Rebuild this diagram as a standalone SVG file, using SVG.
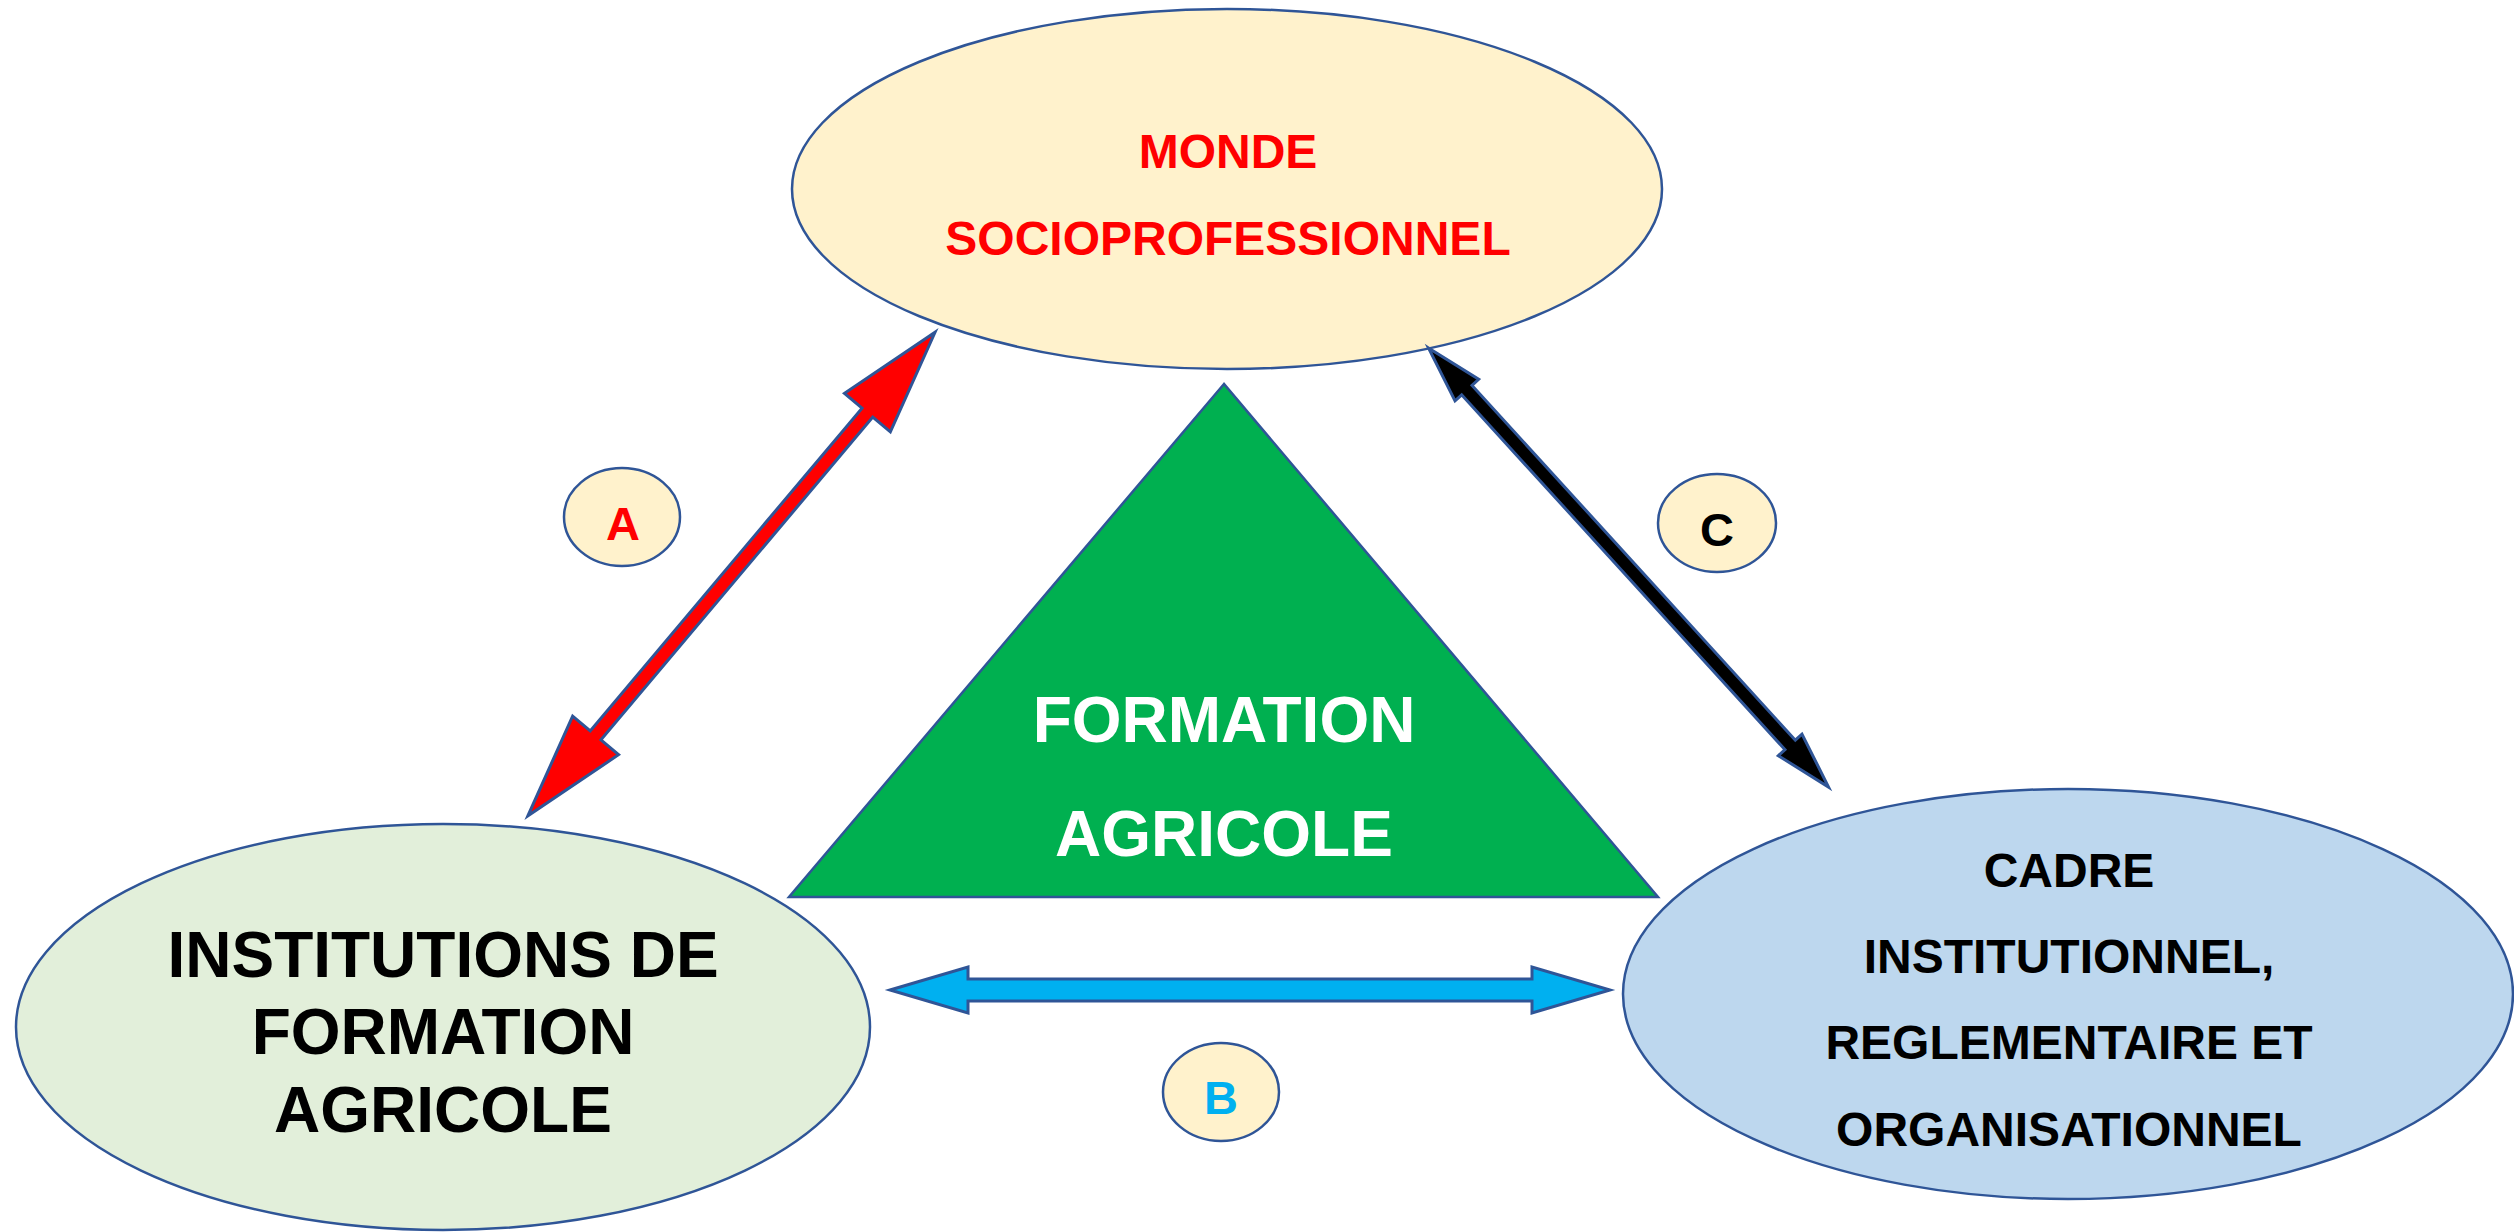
<svg xmlns="http://www.w3.org/2000/svg" width="2514" height="1232" viewBox="0 0 2514 1232">
<style>
.node{stroke:#2F5597;stroke-width:2.5}
.t{font-family:"Liberation Sans",Arial,sans-serif;font-weight:bold;text-anchor:middle}
.arr{stroke:#2F5597;stroke-width:3;stroke-linejoin:miter}
</style>
<rect width="2514" height="1232" fill="#FFFFFF"/>
<g id="monde">
<ellipse class="node" cx="1227" cy="189" rx="435" ry="180" fill="#FFF2CC"/>
<text class="t" x="1228" y="168" font-size="48" fill="#FF0000">MONDE</text>
<text class="t" x="1228" y="255" font-size="48" fill="#FF0000">SOCIOPROFESSIONNEL</text>
</g>
<g id="institutions">
<ellipse class="node" cx="443" cy="1027" rx="427" ry="203" fill="#E2EFDA"/>
<text class="t" x="443" y="977" font-size="64" fill="#000000">INSTITUTIONS DE</text>
<text class="t" x="443" y="1054" font-size="64" fill="#000000">FORMATION</text>
<text class="t" x="443" y="1132" font-size="64" fill="#000000">AGRICOLE</text>
</g>
<g id="cadre">
<ellipse class="node" cx="2068" cy="994" rx="445" ry="205" fill="#BDD7EE"/>
<text class="t" x="2069" y="887" font-size="48" fill="#000000">CADRE</text>
<text class="t" x="2069" y="973" font-size="48" fill="#000000">INSTITUTIONNEL,</text>
<text class="t" x="2069" y="1059" font-size="48" fill="#000000">REGLEMENTAIRE ET</text>
<text class="t" x="2069" y="1146" font-size="48" fill="#000000">ORGANISATIONNEL</text>
</g>
<g id="formation">
<polygon class="node" points="1224,384 789,897 1658,897" fill="#00B050"/>
<text class="t" x="1224" y="742" font-size="64" fill="#FFFFFF">FORMATION</text>
<text class="t" x="1224" y="856" font-size="64" fill="#FFFFFF">AGRICOLE</text>
</g>
<g id="connectors">
<polygon class="arr" fill="#FF0000" transform="translate(731.5,574) rotate(-49.9)" points="-316,0 -211,-30 -211,-7 211,-7 211,-30 316,0 211,30 211,7 -211,7 -211,30"/>
<polygon class="arr" fill="#000000" transform="translate(1628.5,567.5) rotate(47.66)" points="-297,0 -240,-16 -240,-7 240,-7 240,-16 297,0 240,16 240,7 -240,7 -240,16"/>
<polygon class="arr" fill="#00B0F0" points="890,990 968,967 968,979 1532,979 1532,967 1610,990 1532,1013 1532,1001 968,1001 968,1013"/>
</g>
<g id="label-a">
<ellipse class="node" cx="622" cy="517" rx="58" ry="49" fill="#FFF2CC"/>
<text class="t" x="623" y="540" font-size="47" fill="#FF0000">A</text>
</g>
<g id="label-b">
<ellipse class="node" cx="1221" cy="1092" rx="58" ry="49" fill="#FFF2CC"/>
<text class="t" x="1221" y="1114" font-size="47" fill="#00B0F0">B</text>
</g>
<g id="label-c">
<ellipse class="node" cx="1717" cy="523" rx="59" ry="49" fill="#FFF2CC"/>
<text class="t" x="1717" y="546" font-size="47" fill="#000000">C</text>
</g>
</svg>
